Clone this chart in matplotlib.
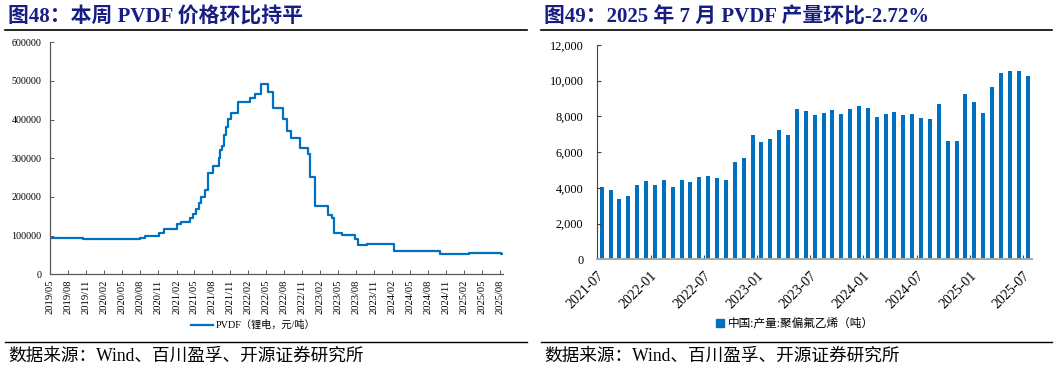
import numpy as np
import pandas as pd
import matplotlib
matplotlib.use("Agg")
import matplotlib.pyplot as plt
import matplotlib.dates as mdates
from matplotlib.ticker import FuncFormatter, MultipleLocator
from matplotlib.lines import Line2D
from matplotlib.patches import Patch

plt.rcParams['font.family'] = ['Liberation Serif', 'Noto Sans CJK SC', 'DejaVu Sans']

# ---- left: PVDF price (lithium grade), change points of the weekly series
price_dates = ['2019-05-01', '2019-09-08', '2019-10-18', '2020-08-01', '2020-08-25',
               '2020-11-05', '2020-11-28', '2021-02-05', '2021-02-25', '2021-04-10',
               '2021-04-28', '2021-05-10', '2021-05-28', '2021-06-07', '2021-06-28',
               '2021-07-13', '2021-08-04', '2021-09-04', '2021-09-10', '2021-09-19',
               '2021-09-28', '2021-10-10', '2021-10-19', '2021-11-04', '2021-12-10',
               '2022-02-10', '2022-03-07', '2022-04-07', '2022-05-13', '2022-06-07',
               '2022-07-28', '2022-08-16', '2022-09-03', '2022-10-22', '2022-11-28',
               '2022-12-10', '2023-01-07', '2023-03-13', '2023-04-01', '2023-04-10',
               '2023-05-22', '2023-07-25', '2023-08-13', '2023-09-28', '2024-02-10',
               '2024-09-28', '2025-02-22', '2025-08-04', '2025-08-20']
price_values = [94500, 93000, 91500, 93000, 99000,
                108000, 117000, 130000, 136000, 145000,
                157000, 169000, 185000, 200000, 218000,
                261000, 281000, 300000, 321000, 332000,
                360000, 382000, 401000, 416000, 446000,
                457000, 466000, 491000, 471500, 431000,
                400800, 371400, 351700, 325800, 311000,
                250800, 176600, 153300, 144800, 106000,
                101600, 90500, 76500, 79100, 60300,
                51700, 55900, 51700, 51700]
price_label = 'PVDF（锂电，元/吨）'

# ---- right: monthly PVDF output in China
output_months = pd.period_range('2021-07', '2025-07', freq='M').strftime('%Y-%m').tolist()
output_values = [4070, 3880, 3380, 3560, 4140, 4370, 4140, 4440, 4070, 4440,
                 4310, 4610, 4650, 4570, 4420, 5450, 5690, 6960, 6590, 6760,
                 7260, 6980, 8420, 8300, 8100, 8170, 8360, 8140, 8430, 8580,
                 8470, 7990, 8150, 8250, 8100, 8150, 7930, 7860, 8710, 6610,
                 6620, 9270, 8810, 8190, 9630, 10430, 10560, 10560, 10280]
output_label = '中国:产量:聚偏氟乙烯（吨）'

title_left = '图48：本周 PVDF 价格环比持平'
title_right = '图49：2025 年 7 月 PVDF 产量环比-2.72%'
source = '数据来源：Wind、百川盈孚、开源证券研究所'

W, H = 1057, 369
fig = plt.figure(figsize=(W / 100, H / 100), dpi=100, facecolor='white')

def fx(px):
    return px / W

def fy(py):
    return 1 - py / H

navy = '#161E84'
blue = '#0070C0'

# titles, rules and source lines
for x0, x1, title in [(5, 527, title_left), (541, 1052, title_right)]:
    fig.text(fx(x0 + 3), fy(17), title, fontsize=15, fontweight='bold',
             color=navy, va='center', ha='left')
    fig.add_artist(Line2D([fx(x0), fx(x1)], [fy(29.5), fy(29.5)], color='black', lw=1.2))
    fig.add_artist(Line2D([fx(x0), fx(x1)], [fy(342), fy(342)], color='black', lw=1.0))
    fig.text(fx(x0 + 3), fy(356), source, fontsize=12.7, va='center', ha='left')

# ---- left chart
ax = fig.add_axes([fx(50), fy(274.3), fx(453), 232 / H])
d = pd.to_datetime(price_dates)
ax.plot(d, price_values, drawstyle='steps-post', color=blue, lw=1.6)
ax.set_xlim(pd.Timestamp('2019-05-01'), pd.Timestamp('2025-08-16'))
ax.set_ylim(0, 600000)
ax.yaxis.set_major_locator(MultipleLocator(100000))
ax.xaxis.set_major_locator(mdates.MonthLocator(bymonth=[2, 5, 8, 11]))
ax.xaxis.set_major_formatter(mdates.DateFormatter('%Y/%m'))
for s in ['top', 'right']:
    ax.spines[s].set_visible(False)
for s in ['left', 'bottom']:
    ax.spines[s].set_color('#595959')
    ax.spines[s].set_linewidth(0.9)
ax.tick_params(axis='x', direction='in', length=3, width=0.7, color='#595959',
               labelsize=7.6, rotation=90, pad=4)
ax.tick_params(axis='y', direction='in', length=3, width=0.7, color='#595959',
               labelsize=7.2, pad=6)
ax.legend(handles=[Line2D([], [], color=blue, lw=1.6)], labels=[price_label],
          loc='center', bbox_to_anchor=(fx(253), fy(325)), bbox_transform=fig.transFigure,
          frameon=False, fontsize=7.3, handlelength=2.2, handletextpad=0.2)

# ---- right chart
ax2 = fig.add_axes([fx(597.3), fy(259.3), fx(434.7), 214.3 / H])
xi = np.arange(len(output_values))
ax2.bar(xi, output_values, width=0.45, color=blue)
ax2.set_xlim(-0.45, len(output_values) - 0.5)
ax2.set_ylim(0, 12000)
ax2.yaxis.set_major_locator(MultipleLocator(2000))
ax2.yaxis.set_major_formatter(FuncFormatter(lambda v, p: f'{int(v):,}'))
ticks = xi[::6]
ax2.set_xticks(ticks - 0.5)
ax2.set_xticklabels([output_months[i] for i in ticks], rotation=45, ha='right',
                    va='top', rotation_mode='anchor')
for s in ['top', 'right']:
    ax2.spines[s].set_visible(False)
ax2.spines['left'].set_color('#404040')
ax2.spines['left'].set_linewidth(0.8)
ax2.spines['bottom'].set_color('#A6A6A6')
ax2.spines['bottom'].set_linewidth(1.4)
ax2.tick_params(axis='x', direction='in', length=3, width=0.8, color='#404040',
                labelsize=10, pad=7)
ax2.tick_params(axis='y', direction='in', length=3, width=0.8, color='#404040',
                labelsize=8.8, pad=10)
ax2.legend(handles=[Patch(color=blue)], labels=[output_label],
           loc='center', bbox_to_anchor=(fx(795), fy(324)), bbox_transform=fig.transFigure,
           frameon=False, fontsize=8.4, handlelength=0.7, handleheight=0.7, handletextpad=0.3)

fig.savefig('out.png', dpi=100, facecolor='white')
